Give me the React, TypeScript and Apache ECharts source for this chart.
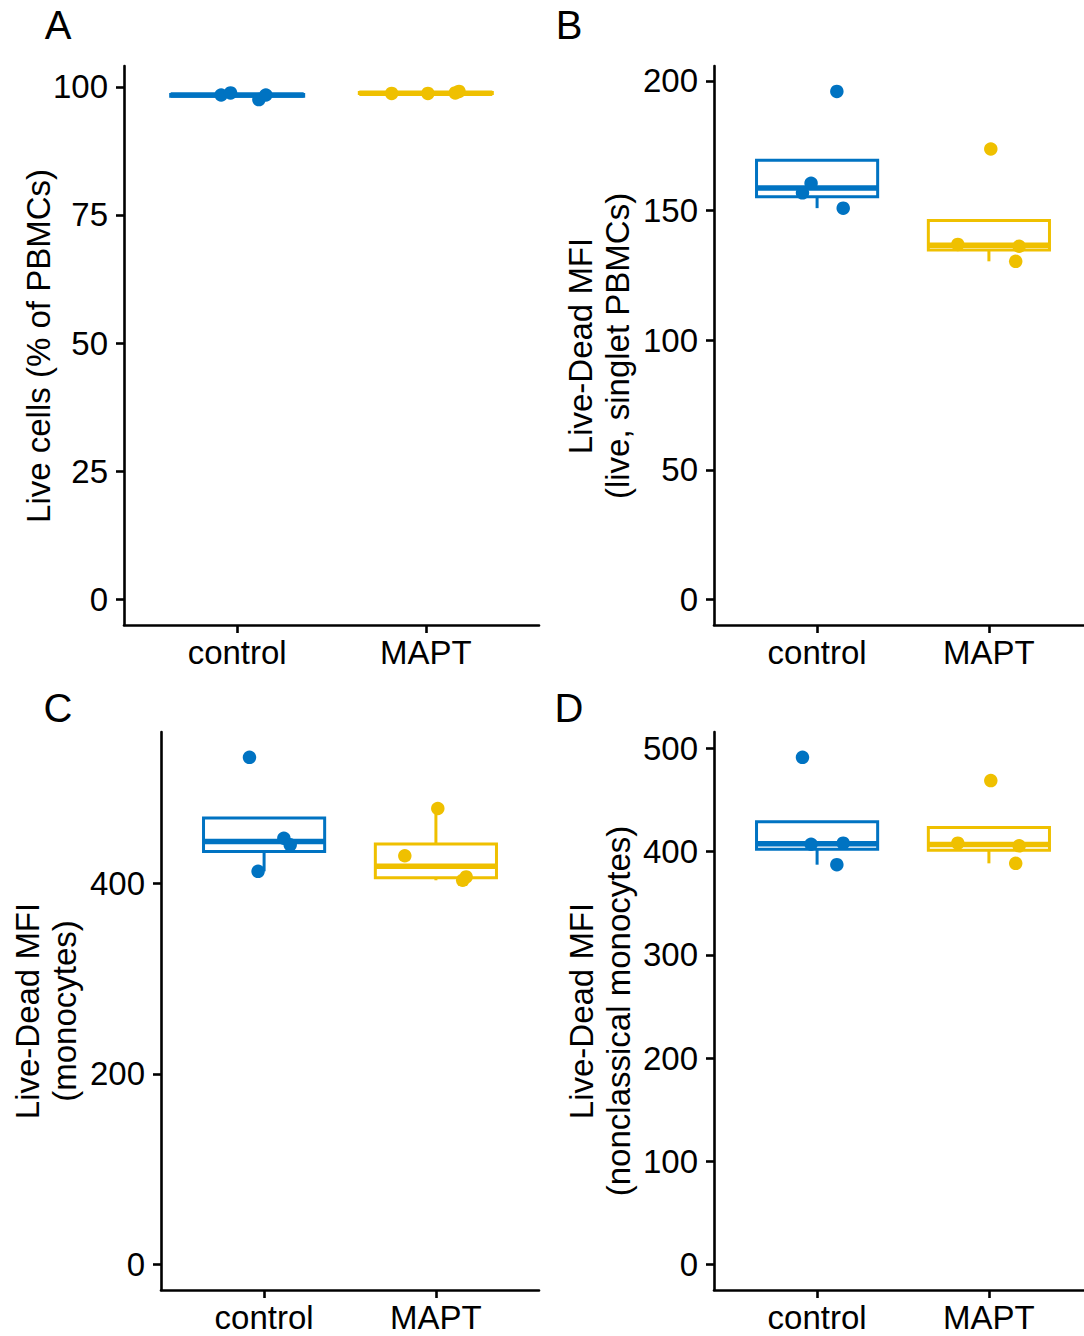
import React, { useEffect, useRef } from "react";
import * as echarts from "echarts";

const groups = ["control", "MAPT"];
const groupColors = ["#0073C2", "#EFC000"];
// horizontal jitter of each sample (fraction of a category step)
const jitterControl = [-0.085, -0.035, 0.115, 0.152];
const jitterMAPT = [-0.181, 0.011, 0.156, 0.176];

const liveCellsControl = [98.4, 98.8, 97.5, 98.4];
const liveCellsMAPT = [98.7, 98.7, 98.8, 99.1];
const mfiPBMCControl = [156.8, 160.5, 195.9, 150.9];
const mfiPBMCMAPT = [136.9, 173.7, 130.4, 136.2];
const mfiMonoControl = [532, 412.5, 447.2, 440.3];
const mfiMonoMAPT = [428.8, 478.4, 403.1, 406.6];
const mfiNCMonoControl = [491.1, 407.0, 387.2, 408.0];
const mfiNCMonoMAPT = [408.0, 468.6, 388.5, 405.5];

const ticksA = [0, 25, 50, 75, 100];
const ticksB = [0, 50, 100, 150, 200];
const ticksC = [0, 200, 400];
const ticksD = [0, 100, 200, 300, 400, 500];

const panelLetters = ["A", "B", "C", "D"];
const yTitles = [
  "Live cells (% of PBMCs)",
  "Live-Dead MFI\n(live, singlet PBMCs)",
  "Live-Dead MFI\n(monocytes)",
  "Live-Dead MFI\n(nonclassical monocytes)",
];

const FONT = "Liberation Sans, Arial, sans-serif";
const FS = 33;

function quantile(sorted: number[], p: number) {
  const h = (sorted.length - 1) * p;
  const lo = Math.floor(h);
  const e = h - lo;
  return e ? sorted[lo] + e * (sorted[lo + 1] - sorted[lo]) : sorted[lo];
}

function boxStats(vals: number[]) {
  const s = [...vals].sort((a, b) => a - b);
  const q1 = quantile(s, 0.25);
  const med = quantile(s, 0.5);
  const q3 = quantile(s, 0.75);
  const iqr = q3 - q1;
  const inside = s.filter((v) => v >= q1 - 1.5 * iqr && v <= q3 + 1.5 * iqr);
  const low = Math.min(...inside, q1);
  const high = Math.max(...inside, q3);
  return [low, q1, med, q3, high];
}

const panels = [
  { control: liveCellsControl, mapt: liveCellsMAPT, ticks: ticksA, grid: { left: 124, top: 66, width: 415, height: 559 } },
  { control: mfiPBMCControl, mapt: mfiPBMCMAPT, ticks: ticksB, grid: { left: 714, top: 66, width: 378, height: 559 } },
  { control: mfiMonoControl, mapt: mfiMonoMAPT, ticks: ticksC, grid: { left: 161, top: 732, width: 378, height: 558 } },
  { control: mfiNCMonoControl, mapt: mfiNCMonoMAPT, ticks: ticksD, grid: { left: 714, top: 732, width: 378, height: 558 } },
];

const titlePos = [
  { x: 38, y: 346 },
  { x: 599, y: 346 },
  { x: 46, y: 1011 },
  { x: 600, y: 1011 },
];
const letterPos = [
  { x: 58, y: 25 },
  { x: 569, y: 25 },
  { x: 58, y: 708 },
  { x: 569, y: 708 },
];

const HALF_BOX = 0.3525;

export default function App() {
  const ref = useRef<HTMLDivElement>(null);
  useEffect(() => {
    if (!ref.current) return;
    const chart = echarts.init(ref.current, undefined, { renderer: "svg" });
    const grids: any[] = [];
    const xAxes: any[] = [];
    const yAxes: any[] = [];
    const series: any[] = [];
    const graphics: any[] = [];

    panels.forEach((p, i) => {
      grids.push({ ...p.grid, containLabel: false });
      xAxes.push({
        type: "value",
        gridIndex: i,
        min: 0.4,
        max: 2.6,
        splitLine: { show: false },
        axisLine: { show: true, onZero: false, lineStyle: { color: "#000", width: 2.6 } },
        axisTick: { show: true, length: 8, customValues: [1, 2], lineStyle: { color: "#000", width: 2.6 } },
        axisLabel: {
          show: true,
          customValues: [1, 2],
          formatter: (v: number) => groups[Math.round(v) - 1] ?? "",
          fontSize: FS,
          fontFamily: FONT,
          color: "#000",
          margin: 11,
        },
      });
      const maxV = Math.max(...p.control, ...p.mapt);
      yAxes.push({
        type: "value",
        gridIndex: i,
        min: -0.05 * maxV,
        max: 1.05 * maxV,
        splitLine: { show: false },
        axisLine: { show: true, onZero: false, lineStyle: { color: "#000", width: 2.6 } },
        axisTick: { show: true, length: 8, customValues: p.ticks, lineStyle: { color: "#000", width: 2.6 } },
        axisLabel: {
          show: true,
          customValues: p.ticks,
          fontSize: FS,
          fontFamily: FONT,
          color: "#000",
          margin: 16,
        },
      });

      const boxData = [p.control, p.mapt].map((vals, gi) => [gi + 1, ...boxStats(vals), gi]);
      series.push({
        type: "custom",
        xAxisIndex: i,
        yAxisIndex: i,
        encode: { x: 0, y: [1, 2, 3, 4, 5] },
        data: boxData,
        z: 2,
        renderItem: (params: any, api: any) => {
          const x = api.value(0);
          const low = api.value(1);
          const q1 = api.value(2);
          const med = api.value(3);
          const q3 = api.value(4);
          const high = api.value(5);
          const color = groupColors[api.value(6)];
          const tl = api.coord([x - HALF_BOX, q3]);
          const br = api.coord([x + HALF_BOX, q1]);
          const cQ3 = api.coord([x, q3]);
          const cHigh = api.coord([x, high]);
          const cQ1 = api.coord([x, q1]);
          const cLow = api.coord([x, low]);
          const mL = api.coord([x - HALF_BOX, med]);
          const mR = api.coord([x + HALF_BOX, med]);
          return {
            type: "group",
            children: [
              { type: "line", shape: { x1: cQ3[0], y1: cQ3[1], x2: cHigh[0], y2: cHigh[1] }, style: { stroke: color, lineWidth: 3 } },
              { type: "line", shape: { x1: cQ1[0], y1: cQ1[1], x2: cLow[0], y2: cLow[1] }, style: { stroke: color, lineWidth: 3 } },
              {
                type: "rect",
                shape: { x: tl[0], y: tl[1], width: br[0] - tl[0], height: br[1] - tl[1] },
                style: { fill: "#fff", stroke: color, lineWidth: 3 },
              },
              { type: "line", shape: { x1: mL[0], y1: mL[1], x2: mR[0], y2: mR[1] }, style: { stroke: color, lineWidth: 5.5 } },
            ],
          };
        },
      });

      [
        { vals: p.control, jit: jitterControl, gi: 0 },
        { vals: p.mapt, jit: jitterMAPT, gi: 1 },
      ].forEach(({ vals, jit, gi }) => {
        series.push({
          type: "scatter",
          xAxisIndex: i,
          yAxisIndex: i,
          symbol: "circle",
          symbolSize: 13.5,
          z: 3,
          itemStyle: { color: groupColors[gi], opacity: 1 },
          data: vals.map((v, k) => [gi + 1 + jit[k], v]),
        });
      });

      graphics.push({
        type: "text",
        x: titlePos[i].x,
        y: titlePos[i].y,
        rotation: Math.PI / 2,
        style: {
          text: yTitles[i],
          fontSize: FS,
          fontFamily: FONT,
          fill: "#000",
          align: "center",
          verticalAlign: "middle",
          lineHeight: 37,
        },
      });
      graphics.push({
        type: "text",
        x: letterPos[i].x,
        y: letterPos[i].y,
        style: {
          text: panelLetters[i],
          fontSize: 40,
          fontFamily: FONT,
          fill: "#000",
          align: "center",
          verticalAlign: "middle",
        },
      });
    });

    chart.setOption({
      animation: false,
      backgroundColor: "#fff",
      grid: grids,
      xAxis: xAxes,
      yAxis: yAxes,
      series,
      graphic: graphics,
    });
    return () => chart.dispose();
  }, []);
  return (
    <div style={{ position: "absolute", left: 0, top: 0, width: 1084, height: 1336, overflow: "hidden", background: "#fff" }}>
      <div ref={ref} style={{ position: "absolute", left: 0, top: 0, width: 1100, height: 1336 }} />
    </div>
  );
}
